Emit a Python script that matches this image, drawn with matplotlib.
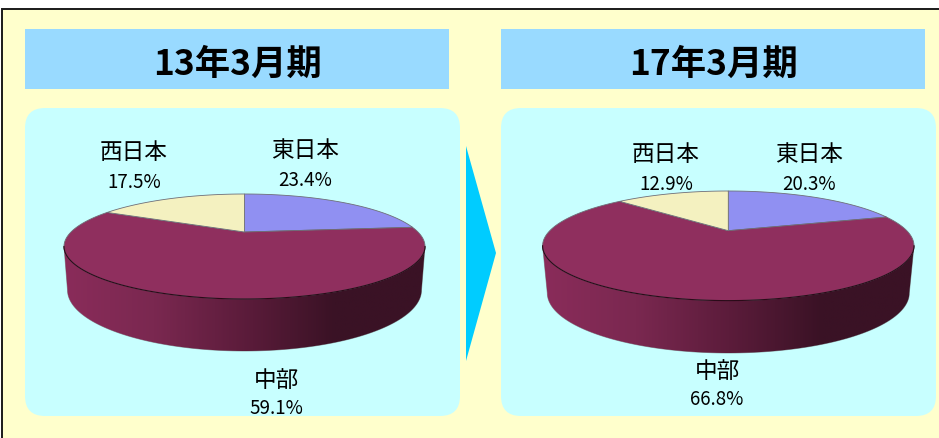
import numpy as np
import matplotlib.pyplot as plt
from matplotlib.colors import LinearSegmentedColormap
from matplotlib.patches import FancyBboxPatch, Polygon, Rectangle

plt.rcParams['font.family'] = ['Noto Sans CJK JP', 'DejaVu Sans']

titles = ['13年3月期', '17年3月期']
regions = ['東日本', '中部', '西日本']
shares_13 = [23.4, 59.1, 17.5]
shares_17 = [20.3, 66.8, 12.9]
slice_colors = ['#9090f2', '#8f2f5e', '#f4f1c0']

side_cmap = LinearSegmentedColormap.from_list(
    'side', ['#8a2c5a', '#7a2850', '#5c1c3b', '#3a1225', '#3a1225'])


def rim_point(cx, cy, a, b, tilt, theta):
    # circle seen in perspective, theta clockwise from the top
    x, y = np.sin(theta), np.cos(theta)
    u = x * np.sqrt(1 - tilt ** 2) / (1 + tilt * y)
    v = (y + tilt) / (1 + tilt * y)
    return cx + a * u, cy - b * v


def draw_pie(ax, shares, cx, cy, a, b, low_cy, low_a, low_b, tilt=0.276):
    # side wall, lower half of both ellipses with a horizontal gradient
    t = np.linspace(np.pi, 0, 120)
    top = np.c_[cx + a * np.cos(t), cy + b * np.sin(t)]
    low = np.c_[cx + low_a * np.cos(t[::-1]), low_cy + low_b * np.sin(t[::-1])]
    wall = Polygon(np.r_[top, low], closed=True, fc='none', ec='#8aa0a0', lw=0.6)
    ax.add_patch(wall)
    grad = ax.imshow(np.linspace(0, 1, 256).reshape(1, -1), cmap=side_cmap,
                     extent=[cx - a, cx + a, low_cy + low_b, cy - b],
                     aspect='auto', zorder=1)
    grad.set_clip_path(wall)

    # slices on the top face
    edges = np.cumsum([0] + shares) / 100 * 2 * np.pi
    apex = (cx, cy - tilt * b)
    for i, share in enumerate(shares):
        th = np.linspace(edges[i], edges[i + 1], 200)
        xs, ys = rim_point(cx, cy, a, b, tilt, th)
        pts = np.r_[[apex], np.c_[xs, ys]]
        ax.add_patch(Polygon(pts, closed=True, fc=slice_colors[i], ec='#6e6e78',
                             lw=0.6, zorder=2, joinstyle='round'))
    ax.plot(top[:, 0], top[:, 1], color='#2a0a18', lw=0.8, zorder=3)


fig = plt.figure(figsize=(9.39, 4.39), dpi=100, facecolor='white')
ax = fig.add_axes([0, 0, 1, 1])
ax.set_axis_off()

ax.add_patch(Rectangle((2, 8.5), 940, 432, fc='#ffffcc', ec='#1a1a1a', lw=1.4, zorder=0))

for x0, title in zip([25, 501], titles):
    ax.add_patch(Rectangle((x0, 29), 424, 60, fc='#99daff', ec='none'))
    ax.text(x0 + 212.5, 63, title, ha='center', va='center', fontsize=25.5,
            fontweight='bold', color='black')
    ax.add_patch(FancyBboxPatch((x0 + 20, 128), 395, 268,
                                boxstyle='round,pad=20,rounding_size=20',
                                fc='#c8ffff', ec='none'))

ax.add_patch(Polygon([(466, 146), (496, 253), (466, 361)], closed=True,
                     fc='#00ccff', ec='none'))

draw_pie(ax, shares_13, 244.5, 246.5, 180.5, 52.5, 290, 177, 61)
draw_pie(ax, shares_17, 728.3, 245.8, 185.7, 54.8, 293, 181, 60)

label_pos_13 = [(305, 150, 180), (276, 379, 408), (134, 152, 182)]
label_pos_17 = [(809, 154, 184), (717, 370, 399), (666, 154, 183.5)]
for shares, pos in [(shares_13, label_pos_13), (shares_17, label_pos_17)]:
    for name, share, (x, y1, y2) in zip(regions, shares, pos):
        ax.text(x, y1, name, ha='center', va='center', fontsize=16.3, color='black', zorder=4)
        ax.text(x, y2, '%.1f%%' % share, ha='center', va='center', fontsize=13.5,
                color='black', zorder=4)

ax.set_xlim(0, 939)
ax.set_ylim(438, -1)

fig.savefig('out.png', dpi=100)
